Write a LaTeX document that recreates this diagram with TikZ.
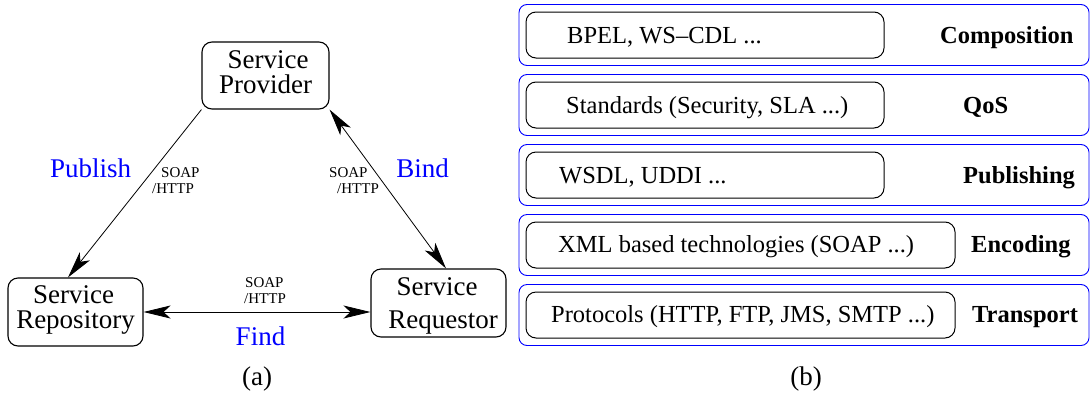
\documentclass[tikz,border=0pt]{standalone}
\usepackage{fontspec}
\setmainfont{Liberation Serif}
\usetikzlibrary{arrows.meta}
\begin{document}
\begin{tikzpicture}[x=1pt,y=-1pt,
  svcbox/.style={draw, rounded corners=10pt, line width=1.1pt, inner sep=0pt},
  big/.style={font=\fontsize{27}{30}\selectfont, inner sep=0pt, anchor=base},
  small/.style={font=\fontsize{15}{17}\selectfont, inner sep=0pt, anchor=base west},
  lbl/.style={big, text=blue},
  tip/.tip={Stealth[length=27pt, width=13pt, inset=7pt]},
  conn/.style={line width=0.8pt},
  layer/.style={draw=blue, rounded corners=8pt, line width=0.9pt, inner sep=0pt, minimum width=570pt, minimum height=61pt},
  tech/.style={draw, rounded corners=10pt, line width=1pt, inner sep=0pt, minimum height=46pt},
  ltext/.style={font=\fontsize{24.5}{28}\selectfont, inner sep=0pt, anchor=base west},
  btext/.style={font=\fontsize{24.5}{28}\selectfont\bfseries, inner sep=0pt, anchor=base west}]
\useasboundingbox (0,0) rectangle (1091,394);

% ---- (a) ----
\node[svcbox, minimum width=127pt, minimum height=67pt] (prov) at (265.5,75.5) {};
\node[svcbox, minimum width=135pt, minimum height=68pt] (repo) at (75.5,312) {};
\node[svcbox, minimum width=135pt, minimum height=68pt] (req) at (438.5,303) {};

\node[big] (provA) at (268,68) {Service};
\node[big] (provB) at (265.5,93) {Provider};
\node[big] (repoA) at (73.5,303) {Service};
\node[big] (repoB) at (75.5,328) {Repository};
\node[big] (reqA) at (437,295) {Service};
\node[big] (reqB) at (443,328) {Requestor};

\draw[conn, -tip] (prov.south west) -- ([xshift=-7.5pt]repo.north);
\draw[conn, tip-tip] (prov.south east) -- ([xshift=7.5pt]req.north);
\draw[conn, tip-tip] (repo.east) -- (repo.east -| req.west);

\node[lbl] (publish) at (90.7,177) {Publish};
\node[lbl] (bind) at (422.5,177) {Bind};
\node[lbl] (find) at (260.5,345) {Find};

\node[small] (s1) at (161,177) {SOAP};
\node[small] (h1) at (152,193) {/HTTP};
\node[small] (s2) at (329,177) {SOAP};
\node[small] (h2) at (337,193) {/HTTP};
\node[small] (s3) at (245,287) {SOAP};
\node[small] (h3) at (244,303) {/HTTP};

\node[big] (capa) at (257,385) {(a)};

% ---- (b) ----
\foreach \i/\c in {1/35,2/105,3/175,4/245,5/315}{
  \node[layer] (layer\i) at (804,\c) {};
}
\node[tech, minimum width=358pt] (t1) at (705,35) {};
\node[tech, minimum width=358pt] (t2) at (705,105) {};
\node[tech, minimum width=358pt] (t3) at (705,175) {};
\node[tech, minimum width=429pt] (t4) at (740.5,245) {};
\node[tech, minimum width=429pt] (t5) at (740.5,315) {};

\node[ltext] (x1) at (567,43) {BPEL, WS–CDL ...};
\node[ltext] (x2) at (566,113) {Standards (Security, SLA ...)};
\node[ltext] (x3) at (559,183) {WSDL, UDDI ...};
\node[ltext] (x4) at (558,252) {XML based technologies (SOAP ...)};
\node[ltext] (x5) at (551,322) {Protocols (HTTP, FTP, JMS, SMTP ...)};

\node[btext] (n1) at (940,43) {Composition};
\node[btext] (n2) at (963,113) {QoS};
\node[btext] (n3) at (963,183) {Publishing};
\node[btext] (n4) at (971,252) {Encoding};
\node[btext] (n5) at (972,322) {Transport};

\node[big] (capb) at (806,385) {(b)};
\end{tikzpicture}
\end{document}
